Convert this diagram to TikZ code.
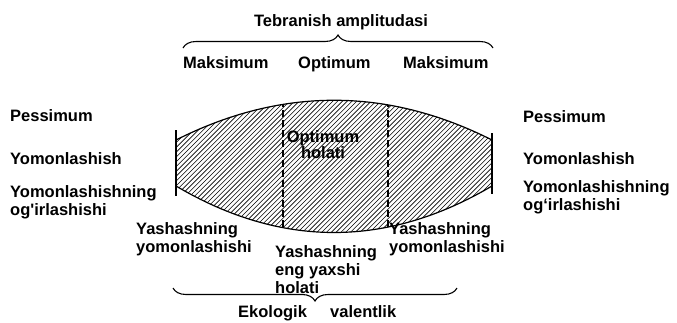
\documentclass[tikz,border=0pt]{standalone}
\usepackage{fontspec}
\setmainfont{Liberation Sans}
\usepackage{tikz}
\usetikzlibrary{decorations.pathreplacing}

\begin{document}
\begin{tikzpicture}[x=1pt,y=-1pt,
    lbl/.style={anchor=base west,align=left,inner sep=0pt,font=\fontsize{16.5}{18}\selectfont\bfseries},
    brc/.style={line width=1.1pt,decorate,decoration={brace,amplitude=13pt}}]
  \useasboundingbox (0,0) rectangle (677,322);
  % hatched lens
  \begin{scope}
    \clip (176,140) .. controls (281,87) and (387,87) .. (492,140) -- (492,186) .. controls (387,248) and (281,248) .. (176,186) -- cycle;
    \foreach \i in {0,...,105}
      \draw[line width=0.6pt] (16+4.8*\i,250) -- (176+4.8*\i,90);
    \draw[line width=1.2pt,dash pattern=on 7pt off 3pt] (283,90) -- (283,240);
    \draw[line width=1.2pt,dash pattern=on 7pt off 3pt] (388,90) -- (388,240);
  \end{scope}
  \draw[line width=1.2pt] (176,140) .. controls (281,87) and (387,87) .. (492,140);
  \draw[line width=1.2pt] (492,186) .. controls (387,248) and (281,248) .. (176,186);
  \draw[line width=1.4pt] (176,130) -- (176,196);
  \draw[line width=1.4pt] (492,133) -- (492,194);
  % braces
  \coordinate (tl) at (183,48);
  \coordinate (tr) at (493,48);
  \coordinate (bl) at (173,288);
  \coordinate (br) at (457,288);
  \draw[brc] (tl) -- (tr);
  \draw[brc] (br) -- (bl);
  % top texts
  \node[lbl,anchor=base] (ampl) at (341,26) {Tebranish amplitudasi};
  \node[lbl] (maxl) at (183,68) {Maksimum};
  \node[lbl] (opt) at (298,68) {Optimum};
  \node[lbl] (maxr) at (403,68) {Maksimum};
  \node[lbl,anchor=base,align=center] (optst) at (323,158) {Optimum\\[-2pt]holati};
  % left side
  \node[lbl] (pesl) at (10,121) {Pessimum};
  \node[lbl] (yoml) at (10,164) {Yomonlashish};
  \node[lbl] (ogil) at (10,215) {Yomonlashishning\\og\textquotesingle irlashishi};
  % right side
  \node[lbl] (pesr) at (523,122) {Pessimum};
  \node[lbl] (yomr) at (523,164) {Yomonlashish};
  \node[lbl] (ogir) at (523,210) {Yomonlashishning\\og‘irlashishi};
  % bottom
  \node[lbl] (yasl) at (136,252) {Yashashning\\yomonlashishi};
  \node[lbl] (yasm) at (275,293) {Yashashning\\eng yaxshi\\holati};
  \node[lbl] (yasr) at (389,252) {Yashashning\\yomonlashishi};
  \node[lbl] (eko) at (238,317) {Ekologik};
  \node[lbl] (val) at (330,317) {valentlik};
\end{tikzpicture}
\end{document}
